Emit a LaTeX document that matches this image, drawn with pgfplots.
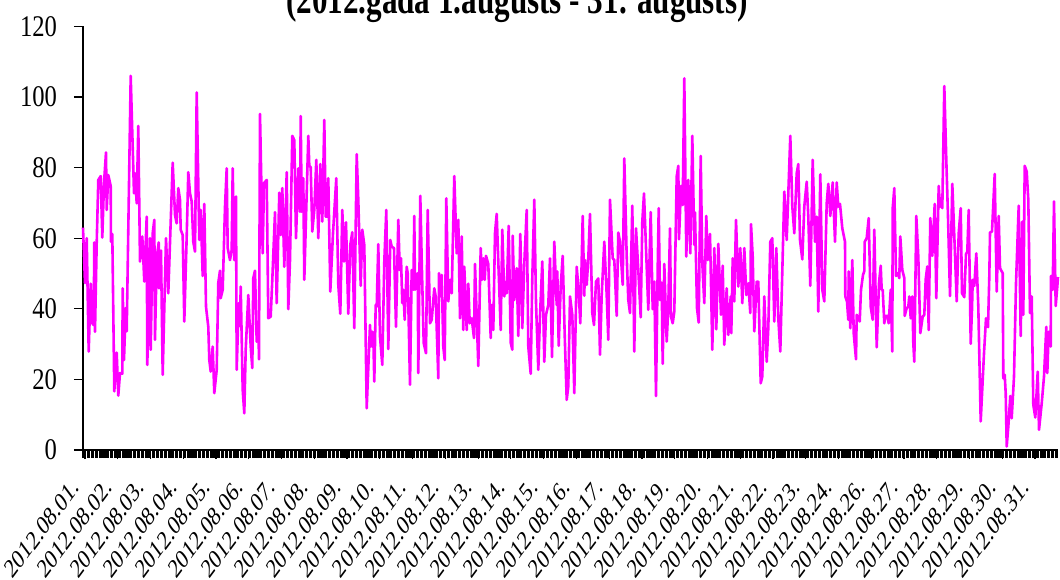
\documentclass[border=0pt]{standalone}
\usepackage{fontspec}
\setmainfont{Liberation Serif}[FakeStretch=0.82]
\newfontfamily\titlefont{Liberation Serif}[FakeStretch=0.75]
\newfontfamily\plainserif{Liberation Serif}
\usepackage{pgfplots}
\pgfplotsset{compat=1.18}
\definecolor{mag}{RGB}{255,0,255}
\begin{document}
\begin{tikzpicture}
\begin{axis}[
  at={(0,0)}, anchor=south west,
  scale only axis, width=487.5pt, height=211.8pt,
  xmin=0, xmax=975, ymin=0, ymax=120,
  axis lines*=left,
  axis line style={line width=0.8pt},
  ytick={0,20,...,120},
  xtick={2,34.76,67.52,100.28,133.04,165.8,198.56,231.32,264.08,296.84,329.6,362.36,395.12,427.88,460.64,493.4,526.16,558.92,591.68,624.44,657.2,689.96,722.72,755.48,788.24,821,853.76,886.52,919.28,952.04},
  xticklabels={2012.08.01.,2012.08.02.,2012.08.03.,2012.08.04.,2012.08.05.,2012.08.06.,2012.08.07.,2012.08.08.,2012.08.09.,2012.08.10.,2012.08.11.,2012.08.12.,2012.08.13.,2012.08.14.,2012.08.15.,2012.08.16.,2012.08.17.,2012.08.18.,2012.08.19.,2012.08.20.,2012.08.21.,2012.08.22.,2012.08.23.,2012.08.24.,2012.08.26.,2012.08.27.,2012.08.28.,2012.08.29.,2012.08.30.,2012.08.31.},
  minor xtick={0,1.354,...,975},
  tick align=outside,
  major tick length=4.5pt, minor tick length=4pt,
  major tick style={black, line width=0.6pt},
  minor tick style={black, line width=0.55pt},
  yticklabel style={font=\fontsize{15}{18}\selectfont, xshift=-5pt},
  xticklabel style={font=\plainserif\fontsize{13.5}{16}\selectfont, anchor=east, xshift=-3pt, yshift=-9.5pt, cm={0.523,0.707,-0.523,0.707,(0,0)}},
  /pgf/number format/assume math mode=true,
  clip=false,
]
\addplot[mag, line width=1.3pt, line join=round] coordinates {
(0,63) (2,47.3) (3.7,60) (5.7,27.9) (7.7,47.1) (9.3,35.9) (10.7,35.4) (11.3,58.8) (12,33.5) (13.7,58.6)
(15.3,76.5) (17.7,77.6) (19.3,60.2) (21,75.6) (23,84.3) (23.7,68) (25.3,77.9) (27.7,74.8) (28,59) (29.3,61.2)
(31.3,16.6) (33.7,27.6) (35.3,15.4) (37,21.8) (39.3,21.6) (39.7,45.8) (41,25.5) (42.7,40.2) (43.7,33.6) (47.7,106)
(51,72.7) (52,78.4) (53.7,69.9) (55.3,91.8) (57,53.4) (59.3,60.5) (61.3,47.7) (63.7,66.1) (64.3,24.1) (67,60)
(67.7,28.4) (69.7,61.4) (71.3,65.2) (72,31.2) (73.7,54.3) (75.7,58.8) (76,45.8) (78,56.5) (79.7,21.3) (83,60)
(85.3,44.4) (89.7,81.4) (92,66.6) (93.7,64.2) (95.3,74.2) (97,70.9) (97.7,62.4) (99.7,60.9) (101.3,36.4) (103.7,60.5)
(105.3,78.7) (107,72.7) (108.7,70.4) (110.3,59) (112,56.2) (113.7,101.3) (116.3,59.5) (117.7,68) (119.7,49.3) (121.3,69.7)
(123,40.6) (125.3,34.9) (126.3,25.5) (127.7,22.2) (129.7,29.3) (131.3,16.1) (133.7,22.7) (135.3,47.4) (137,50.8) (137.7,43)
(139.7,45.4) (142,68.9) (143.7,79.8) (144.7,57.2) (147,53.8) (148.7,56.7) (149.7,79.8) (151.3,53.8) (153,71.8) (153.7,22.7)
(155.7,41.6) (157,35.2) (157.7,46.3) (159.7,17) (161.3,10.4) (162.7,28.4) (165.3,43.9) (167.7,29.3) (169.3,23.2) (170.3,48.7)
(172,50.8) (173.7,30.7) (175.3,35.9) (176,25.7) (177,95.2) (179.7,55.7) (181,75.6) (183.7,76.5) (185.3,37.3) (187.7,37.8)
(189.3,48.2) (192,67.4) (193.7,41.6) (196.3,72.9) (197.7,60.9) (199.3,74.2) (201.3,51.9) (203.7,78.7) (205.3,39.9) (207,53.8)
(209.3,89) (211.3,87.8) (213,60) (215.3,79.8) (217,67.5) (217.7,94.6) (218.7,67.5) (220.3,77) (221.3,48.2) (225.3,89)
(226.3,80.5) (227.7,80.1) (229.3,61.9) (231.3,68) (233.3,82.2) (235.3,60) (237.3,81) (239.3,64.7) (241.3,93.5) (242.7,66.1)
(244.3,66.1) (245.3,77) (247.3,44.9) (250,61.4) (253.3,77) (255.3,46.8) (257.3,38.6) (259.3,68) (261,53.4) (263,64.5)
(265.3,38.6) (267.3,58.1) (269.3,61.7) (271.3,34.5) (273.7,83.8) (275.3,70.9) (277.7,46.5) (279.3,62.4) (281.3,58.1) (283.7,11.8)
(287,35.4) (288,29.3) (289.3,33.5) (290.3,32.1) (291.3,19.4) (292.7,41.1) (293.7,40.6) (295.3,58.3) (297,32.1) (299.3,24.1)
(301.3,53.4) (303.3,68) (305.3,28.6) (307.3,59.5) (308.7,57.6) (311,57.2) (313,34.9) (315.3,65.2) (316.7,51) (318,54.3)
(319.3,41.6) (320.3,45.4) (321.7,36.9) (323.7,51.9) (324.7,50.1) (327,18.5) (328.7,51) (330.3,45.4) (331.3,66.3) (332,45.4)
(334.7,50.1) (335.3,21.8) (337.3,72) (338.7,53.8) (340.7,30.3) (343,27.4) (344.7,68) (347,35.9) (348.7,36.9) (351.3,45.8)
(352.7,43.5) (355.3,20.3) (356,50.1) (357,43.5) (358.7,49.6) (360.3,29.3) (361.7,25.5) (363.3,71.3) (365.3,42.1) (367,48.2)
(368.7,44.4) (371.3,77.6) (373.7,55.7) (375.3,65.2) (377,37.3) (378.7,60.5) (380.3,34) (381.3,51.9) (383.7,34) (385.3,47.1)
(386.7,35.9) (388.7,37.3) (391,31.7) (392,52.7) (395.3,23.8) (397.7,57.2) (399,48.2) (400.3,54.3) (401.7,48.2) (403,55)
(405.3,52.7) (407.7,31.7) (408.7,41.1) (410.3,34) (412,61.4) (413.7,66.9) (415.3,53.4) (417.7,34) (419.3,62.4) (421.3,43.5)
(423,47.7) (423.7,44.4) (425.7,63.5) (427.7,30.4) (429.3,28.4) (429.7,60.7) (431.3,42.5) (433.7,51.5) (435.3,32.3) (437.3,61.2)
(439.3,34.5) (441.3,52.9) (443.7,68) (445.3,29.3) (447.7,21.6) (449.3,48.7) (451.3,70.9) (453,41.8) (455.3,22.7) (457,38)
(459.3,53.4) (461.3,25) (463,38.3) (465.3,41.1) (467,54.3) (469,26.3) (471.3,59) (473.7,41.1) (474.3,50.6) (475.7,29.5)
(477.7,46.3) (479.7,55) (481.7,32.6) (483.7,14.2) (485.3,18) (487,43.5) (489.3,38.3) (491.3,16.1) (493.7,51.9) (495.7,44.9)
(497.3,35.9) (499.7,66.3) (501.3,43.7) (502,53.8) (503.7,46.8) (505.3,54.3) (507,66.9) (509.3,38.8) (511,35.4) (513,47.7)
(515.3,48.6) (517,27) (518.7,43.9) (521.3,59) (523.7,43.9) (525.3,31.2) (527,70.9) (529.7,54.3) (531.3,53.8) (533.7,38)
(535.3,61.6) (537,59) (539.7,46.8) (541.3,82.6) (543.7,54.8) (545.3,42.5) (547,38.8) (549.3,69.2) (551.3,27.9) (553,62.8)
(555.3,51) (557.7,37.6) (559.3,64.7) (561,72.7) (563,57.2) (565.3,39.7) (567.7,67.4) (569.7,39.9) (571.3,47.7) (573,15.3)
(574.7,51.5) (575.7,68.5) (577,42.5) (578.7,47.4) (579.7,24.4) (581.3,52.7) (583.7,30.7) (585.3,40.6) (587,62.8) (588,37.8)
(589.7,35.9) (591.3,39.2) (593.7,77.5) (595.3,80.5) (596,59.7) (598,74.8) (599.7,69.4) (601.3,105.3) (603.3,54.8) (605.3,76.5)
(607.3,55.7) (609.3,89) (611.3,58.1) (612,67.3) (614,40.2) (615.7,36.1) (617.7,83.3) (619.3,52.9) (621.3,41.6) (623.3,66.3)
(624.7,53.8) (627,61.2) (629.3,28.4) (631.3,57.2) (633.3,34.2) (635.3,58.4) (638,38.3) (639.7,52.2) (641.3,29.8) (643.7,45.8)
(645.3,32.6) (647.7,43.5) (648.3,33.1) (649.7,54.3) (651.3,42.1) (653,65.2) (655.3,46.3) (657.3,57.2) (659.3,41.6) (661.3,57.2)
(663.3,43.9) (665.3,47.2) (667.3,38.8) (668,64) (669.7,54.8) (671.3,33.6) (673.7,47.7) (675.3,47.7) (677.7,18.9) (679.3,20.8)
(681.3,43.5) (683.7,25) (685.3,34.5) (687.3,59) (689.3,60) (691.3,36.4) (693.3,57.2) (695.3,37.3) (697.3,27.9) (701.3,73.2)
(703.7,59.5) (707.3,89) (709.3,69) (711.3,61.4) (713.7,78.4) (715.3,81) (717,59.5) (719.3,54) (721.3,69) (723.7,76)
(725.3,66.1) (727.3,46.5) (729.7,82.2) (732,59) (733.7,66.1) (735.3,39.2) (737.3,78.1) (739.3,45.4) (741.3,42.1) (743.7,69.9)
(745.3,75.4) (747.3,66.3) (749.7,75.8) (752,59) (753.7,75.8) (755.3,68.9) (757,69.7) (759.3,62.8) (762,59) (762.3,43.5)
(764,42.1) (765.3,36.9) (765.7,50.6) (767.3,34.5) (769.3,53.8) (770.7,33.1) (773,25.7) (773.7,38.3) (776.7,36.4) (778,45.4)
(780,49.6) (781.3,50.7) (781.7,59) (783.7,60) (785.7,65.7) (787.7,40.6) (789.7,36.9) (791.3,62.4) (793.7,29.1) (796,47.3)
(797.7,52.2) (798.7,45.4) (799.7,45.4) (801.3,35.9) (802.3,38) (804.3,38) (805.7,35.9) (807.7,45.4) (809.3,27.9) (809.7,68.5)
(811.3,74.2) (813,49.3) (814.7,50.1) (816.3,48.7) (817.3,60.5) (819.3,51) (821.3,48.7) (821.7,38) (823.7,40.2) (825.3,40.6)
(826.3,43.5) (827.7,37.3) (829.3,43.5) (830.3,30.3) (831.3,25) (833.3,66.3) (835.3,54.8) (837.3,33.1) (839.7,37.8) (841.3,38.3)
(842.7,48.4) (844.3,52) (845.7,34) (847.3,65.7) (849.3,55) (851.7,69.7) (853.3,43) (855.7,74.8) (857,68.9) (858,71.3)
(859.3,68.5) (861.3,103.1) (863.3,82.2) (865,66.1) (867,43.6) (869.3,75.4) (871.7,57.6) (873.7,42.1) (875.7,61.4) (877.7,68.5)
(879,44.4) (881.3,43.3) (883,55.5) (884.3,56.2) (885.7,68) (887.7,30.1) (889,39.9) (889.7,48.2) (891.3,46.5) (893.3,55.7)
(895.3,40.6) (897.7,8.1) (901,27.4) (903,37.3) (905,34.8) (906.3,49.1) (907,61.6) (909,61.9) (911.7,78.2) (913.7,44.9)
(915.7,66.3) (917,51.5) (919.7,50.1) (920.3,20.3) (921.7,21.3) (922.7,16.1) (923.7,1) (925.3,6.6) (927.3,15.3) (928.7,9)
(931,20.8) (933,47.2) (935.7,69.2) (937.7,32.3) (939.3,64.7) (940.3,38.3) (941.7,80.5) (943.7,78.9) (945.3,70.9) (947,38.8)
(948.7,43.5) (950.3,12.8) (952.3,9.2) (954.7,22.2) (956,5.7) (958.7,13.2) (961,20.8) (963.3,34.9) (964.3,21.8) (965.7,33.5)
(967.7,29.3) (968,49.3) (969.7,45.4) (971,70.4) (972.7,40.8) (974.3,46.3) (975,49)
};
\end{axis}
\node[font=\titlefont\bfseries\fontsize{20.75}{24}\selectfont, anchor=base] at (217pt,218pt) {(2012.gada 1.augusts - 31. augusts)};
\pgfresetboundingbox
\path (-41.5pt,-64.5pt) rectangle (488.5pt,225pt);
\end{tikzpicture}
\end{document}
